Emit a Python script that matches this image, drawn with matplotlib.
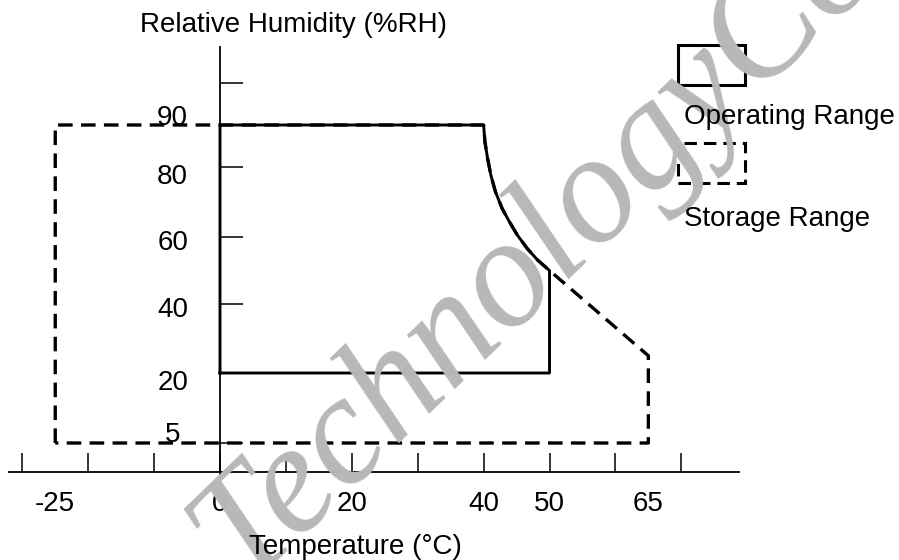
import numpy as np
import matplotlib
matplotlib.use("Agg")
import matplotlib.pyplot as plt
from matplotlib.patches import Rectangle

plt.rcParams["font.family"] = ["Liberation Sans", "DejaVu Sans"]
plt.rcParams["lines.scale_dashes"] = False

# shared high-temperature boundary curve (degC, %RH)
curve_temp = [40, 40.2, 40.6, 41.1, 41.8, 42.8, 43.9, 45.1, 46.6, 48.2, 50]
curve_rh = [90, 86.0, 82.1, 77.7, 72.9, 68.2, 64.4, 60.6, 56.6, 53.1, 50]

# operating range boundary
op_temp = [0, 0] + curve_temp + [50, 0]
op_rh = [20, 90] + curve_rh + [20, 20]

# storage range boundary
st_temp = [-25, -25] + curve_temp + [65, 65, -25]
st_rh = [5, 90] + curve_rh + [25, 5, 5]

x_ticks = list(range(-30, 71, 10))
x_labels = [-25, 0, 20, 40, 50, 65]
y_ticks = [100, 80, 60, 40, 20, 5]
y_labels = [90, 80, 60, 40, 20, 5]

# schematic (non-uniform) humidity axis of the original drawing
Y_ANCHOR_VAL = [-20, 5, 20, 40, 60, 80, 90, 120]
Y_ANCHOR_POS = [0, 117, 187, 256, 323, 393, 435, 560]


def fwd(v):
    return np.interp(v, Y_ANCHOR_VAL, Y_ANCHOR_POS)


def inv(p):
    return np.interp(p, Y_ANCHOR_POS, Y_ANCHOR_VAL)


fig = plt.figure(figsize=(8.99, 5.6), dpi=100)
ax = fig.add_axes([0, 0, 1, 1])
ax.set_yscale("function", functions=(fwd, inv))
ax.set_xlim(-220 / 6.59, 679 / 6.59)
ax.set_ylim(-20, 120)

# watermark underneath everything
fig.text(242 / 899, 1 - 585 / 560, "TechnologyCo", rotation=44,
         rotation_mode="anchor", ha="left", va="baseline", fontsize=112,
         family="Liberation Serif", style="italic", color="#b8b8b8", zorder=0)

ax.plot(st_temp, st_rh, color="black", lw=2.4, ls=(0, (10.5, 6)), zorder=3)
ax.plot(op_temp, op_rh, color="black", lw=2.1, zorder=4)

for s in ["top", "right"]:
    ax.spines[s].set_visible(False)
ax.spines["left"].set_position(("data", 0))
ax.spines["bottom"].set_position(("data", -1.2))
ax.spines["left"].set_bounds(-2.9, 108.7)
ax.spines["bottom"].set_bounds(-32.0, 78.8)
ax.spines["left"].set_linewidth(1.3)
ax.spines["bottom"].set_linewidth(1.3)

ax.xaxis.remove_overlapping_locs = False
ax.set_xticks(x_ticks)
ax.set_xticklabels([])
ax.set_xticks(x_labels, minor=True)
ax.set_xticklabels([str(v) for v in x_labels], minor=True, fontsize=20)
ax.tick_params(axis="x", which="major", direction="in", length=13.7, width=1.1)
ax.tick_params(axis="x", which="minor", length=0, pad=14)

ax.set_yticks(y_ticks)
ax.set_yticklabels([])
ax.yaxis.set_minor_locator(matplotlib.ticker.NullLocator())
ax.tick_params(axis="y", which="major", direction="in", length=16.5, width=1.1)

dy = [7, -10, -6, -6, -10, 8]
dx = [-32, -32, -32, -32, -32, -40]
for v, ox, oy in zip(y_labels, dx, dy):
    ax.annotate(str(v), xy=(0, v), xytext=(ox, oy), textcoords="offset pixels",
                ha="right", va="center", fontsize=20, zorder=5)

fig.text(293 / 899, 1 - 25 / 560, "Relative Humidity (%RH)", ha="center",
         va="center", fontsize=20)
fig.text(355 / 899, 1 - 547 / 560, "Temperature (°C)", ha="center",
         va="center", fontsize=20)

# legend boxes
ax.add_patch(Rectangle((678 / 899, 1 - 85 / 560), 67 / 899, 40 / 560,
                       transform=ax.transAxes, fill=False, lw=2.2,
                       ec="black", zorder=5, clip_on=False))
ax.add_patch(Rectangle((678 / 899, 1 - 183 / 560), 67 / 899, 40 / 560,
                       transform=ax.transAxes, fill=False, lw=2.2,
                       ec="black", ls=(0, (9, 5)), zorder=5, clip_on=False))
fig.text(684 / 899, 1 - 117 / 560, "Operating Range", ha="left", va="center",
         fontsize=20)
fig.text(684 / 899, 1 - 219 / 560, "Storage Range", ha="left", va="center",
         fontsize=20)

fig.savefig("out.png", dpi=100)
